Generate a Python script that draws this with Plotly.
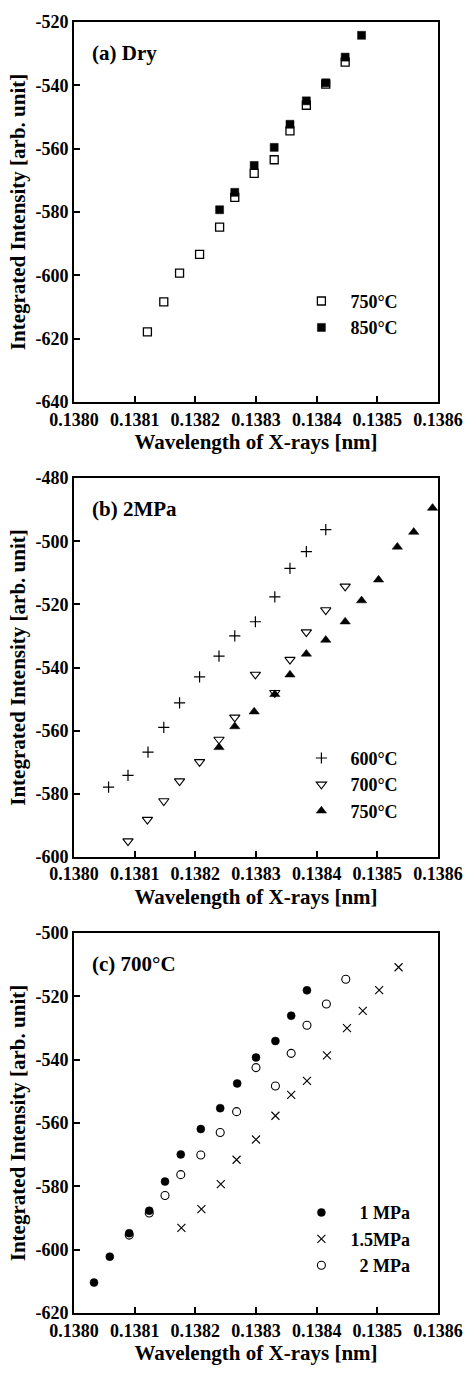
import plotly.graph_objects as go

# ---------------- data ----------------
# (a) Dry
wl_a_750 = [0.138121, 0.138148, 0.138174, 0.138207, 0.138240, 0.138265, 0.138297,
            0.138330, 0.138356, 0.138383, 0.138415, 0.138447]
int_a_750 = [-617.9, -608.4, -599.3, -593.4, -584.8, -575.4, -567.8,
             -563.5, -554.4, -546.3, -539.6, -532.7]
wl_a_850 = [0.138240, 0.138265, 0.138297, 0.138330, 0.138356, 0.138383, 0.138415,
            0.138447, 0.138474]
int_a_850 = [-579.3, -573.8, -565.3, -559.6, -552.3, -544.9, -539.2, -531.1, -524.2]

# (b) 2MPa
wl_b_600 = [0.138057, 0.138089, 0.138122, 0.138148, 0.138174, 0.138207, 0.138239,
            0.138265, 0.138299, 0.138331, 0.138356, 0.138383, 0.138415]
int_b_600 = [-577.9, -574.2, -566.8, -559.0, -551.2, -543.0, -536.4,
             -530.0, -525.5, -517.6, -508.6, -503.3, -496.3]
wl_b_700 = [0.138089, 0.138121, 0.138148, 0.138174, 0.138207, 0.138239, 0.138265,
            0.138299, 0.138331, 0.138356, 0.138383, 0.138415, 0.138447]
int_b_700 = [-595.0, -588.2, -582.3, -576.0, -569.9, -562.8, -555.8,
             -542.2, -548.0, -537.5, -528.8, -521.8, -514.3]
wl_b_750 = [0.138239, 0.138265, 0.138297, 0.138331, 0.138356, 0.138383, 0.138415,
            0.138447, 0.138474, 0.138502, 0.138533, 0.138560, 0.138591]
int_b_750 = [-565.3, -558.7, -554.0, -548.5, -542.3, -535.7, -531.3,
             -525.5, -518.8, -512.2, -501.8, -497.1, -489.5]

# (c) 700°C
wl_c_1 = [0.138033, 0.138059, 0.138091, 0.138124, 0.138150, 0.138176, 0.138209,
          0.138241, 0.138269, 0.138300, 0.138332, 0.138358, 0.138384]
int_c_1 = [-610.4, -602.2, -594.8, -587.7, -578.5, -569.9, -561.9,
           -555.3, -547.5, -539.3, -534.1, -526.1, -518.1]
wl_c_15 = [0.138177, 0.138210, 0.138242, 0.138268, 0.138300, 0.138332, 0.138358,
           0.138384, 0.138417, 0.138450, 0.138476, 0.138503, 0.138535]
int_c_15 = [-593.1, -587.2, -579.3, -571.6, -565.2, -557.7, -551.1,
            -546.7, -538.6, -530.0, -524.6, -518.0, -510.8]
wl_c_2 = [0.138091, 0.138124, 0.138150, 0.138176, 0.138209, 0.138241, 0.138268,
          0.138300, 0.138332, 0.138358, 0.138384, 0.138416, 0.138448]
int_c_2 = [-595.4, -588.4, -582.9, -576.3, -570.1, -563.0, -556.4,
           -542.5, -548.3, -538.0, -529.1, -522.4, -514.6]

x_ticks = [0.1380, 0.1381, 0.1382, 0.1383, 0.1384, 0.1385, 0.1386]
x_tick_labels = ["0.1380", "0.1381", "0.1382", "0.1383", "0.1384", "0.1385", "0.1386"]
y_ticks_a = [-640, -620, -600, -580, -560, -540, -520]
y_ticks_b = [-600, -580, -560, -540, -520, -500, -480]
y_ticks_c = [-620, -600, -580, -560, -540, -520, -500]
panel_labels = ["(a) Dry", "(b) 2MPa", "(c) 700°C"]
x_title = "Wavelength of X-rays [nm]"
y_title = "Integrated Intensity [arb. unit]"

FONT = "Liberation Serif"
BLACK = "black"

fig = go.Figure()


def add(x, y, name, symbol, xa, ya, legend, size=8, lw=1.3):
    marker = dict(symbol=symbol, size=size, color=BLACK,
                  line=dict(color=BLACK, width=lw))
    fig.add_trace(go.Scatter(x=x, y=y, mode="markers", name=name, marker=marker,
                             xaxis=xa, yaxis=ya, legend=legend))


add(wl_a_750, int_a_750, "750°C", "square-open", "x", "y", "legend", size=8)
add(wl_a_850, int_a_850, "850°C", "square", "x", "y", "legend", size=8, lw=0.5)

add(wl_b_600, int_b_600, "600°C", "cross-thin", "x2", "y2", "legend2", size=8, lw=1.2)
add(wl_b_700, int_b_700, "700°C", "triangle-down-open", "x2", "y2", "legend2", size=9, lw=1.1)
add(wl_b_750, int_b_750, "750°C", "triangle-up", "x2", "y2", "legend2", size=9, lw=0.5)

add(wl_c_1, int_c_1, "\u20071 MPa", "circle", "x3", "y3", "legend3", size=8, lw=0.5)
add(wl_c_15, int_c_15, "1.5MPa", "x-thin", "x3", "y3", "legend3", size=8, lw=1.1)
add(wl_c_2, int_c_2, "\u20072 MPa", "circle-open", "x3", "y3", "legend3", size=8, lw=1.1)

# plot area: l=74, r=26, t=16, b=52 -> 375 x 1305
domains_y = [[0.7057, 1.0], [0.3533, 0.6467], [0.0, 0.2943]]
y_tick_sets = [y_ticks_a, y_ticks_b, y_ticks_c]

axis_common = dict(
    showline=True, linecolor=BLACK, linewidth=2, mirror=True,
    ticks="inside", ticklen=6, tickwidth=1.5, tickcolor=BLACK,
    showgrid=False, zeroline=False,
    tickfont=dict(family=FONT, size=18, color=BLACK, weight="bold"),
)

layout = dict(
    width=475, height=1373,
    margin=dict(l=74, r=26, t=16, b=52),
    paper_bgcolor="white", plot_bgcolor="white",
    font=dict(family=FONT, size=18, color=BLACK, weight="bold"),
    annotations=[],
)

legend_ys = [0.798, 0.444, 0.092]
for i in range(3):
    sfx = "" if i == 0 else str(i + 1)
    yt = y_tick_sets[i]
    layout["xaxis" + sfx] = dict(
        axis_common, range=[0.1380, 0.1386], tickvals=x_ticks, ticktext=x_tick_labels,
        domain=[0, 1], anchor="y" + sfx,
        title=dict(text=x_title, font=dict(family=FONT, size=21, color=BLACK, weight="bold"),
                   standoff=6),
    )
    layout["yaxis" + sfx] = dict(
        axis_common, range=[min(yt), max(yt)], tickvals=yt,
        ticktext=["-%d" % abs(v) for v in yt],
        domain=domains_y[i], anchor="x" + sfx,
        title=dict(text=y_title, font=dict(family=FONT, size=21, color=BLACK, weight="bold"),
                   standoff=4),
    )
    layout["legend" + sfx] = dict(
        x=0.60, y=legend_ys[i], xanchor="left", yanchor="top",
        bgcolor="rgba(0,0,0,0)", borderwidth=0, itemwidth=48,
        font=dict(family=FONT, size=18, color=BLACK, weight="bold"),
        tracegroupgap=0, itemsizing="trace",
    )
    layout["annotations"].append(dict(
        text=panel_labels[i], xref=("x" + sfx) + " domain", yref=("y" + sfx) + " domain",
        x=0.045, y=0.918, xanchor="left", yanchor="middle", showarrow=False,
        font=dict(family=FONT, size=21, color=BLACK, weight="bold"),
    ))

fig.update_layout(**layout)
fig.write_html("out.html", config={"displayModeBar": False},
               post_script="document.body.style.margin='0px';document.body.style.padding='0px';")
